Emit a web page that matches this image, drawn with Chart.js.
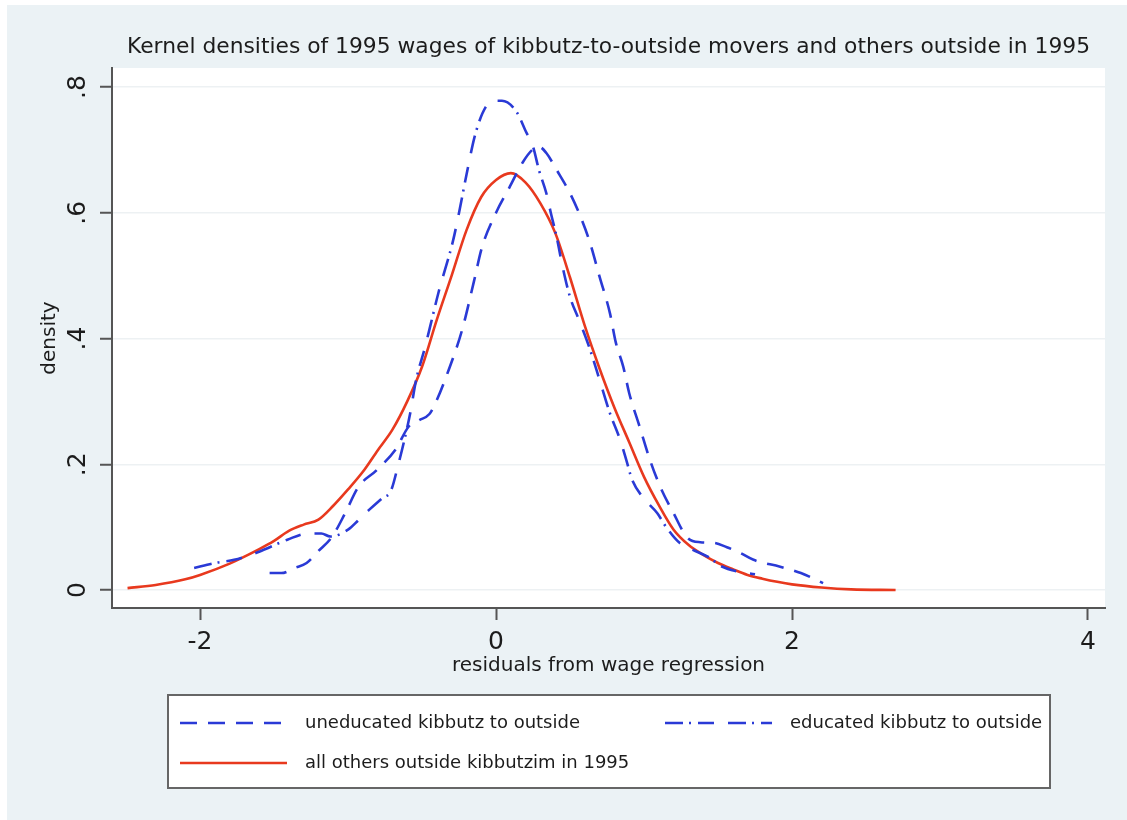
<!DOCTYPE html>
<html>
<head>
<meta charset="utf-8">
<script src="https://cdn.jsdelivr.net/npm/chart.js@4.4.1/dist/chart.umd.min.js"></script>
<style>
  html, body { margin: 0; padding: 0; background: #fff; }
  canvas { display: block; }
</style>
</head>
<body>
<canvas id="chart" width="1127" height="820"></canvas>
<script>
// values
const unedX = [-1.53, -1.45, -1.36, -1.28, -1.2, -1.11, -1.02, -0.93, -0.81, -0.68, -0.59, -0.52, -0.45, -0.41, -0.32, -0.23, -0.15, -0.095, 0, 0.09, 0.18, 0.245, 0.29, 0.34, 0.41, 0.5, 0.56, 0.63, 0.7, 0.77, 0.81, 0.86, 0.9, 0.97, 1.04, 1.11, 1.2, 1.29, 1.38, 1.47, 1.56, 1.65, 1.74, 1.92, 2.06, 2.21];
const unedY = [0.027, 0.027, 0.035, 0.043, 0.062, 0.084, 0.122, 0.164, 0.19, 0.223, 0.26, 0.27, 0.28, 0.297, 0.35, 0.413, 0.49, 0.545, 0.6, 0.64, 0.68, 0.7, 0.705, 0.695, 0.668, 0.631, 0.6, 0.556, 0.498, 0.44, 0.393, 0.355, 0.313, 0.26, 0.207, 0.164, 0.122, 0.084, 0.076, 0.075, 0.068, 0.059, 0.048, 0.037, 0.027, 0.011];

const edX = [-2.04, -1.9, -1.77, -1.61, -1.41, -1.27, -1.18, -1.12, -1.0, -0.93, -0.86, -0.77, -0.71, -0.66, -0.62, -0.58, -0.54, -0.48, -0.44, -0.39, -0.29, -0.25, -0.2, -0.14, -0.07, 0, 0.04, 0.14, 0.2, 0.25, 0.29, 0.34, 0.37, 0.41, 0.45, 0.5, 0.56, 0.63, 0.7, 0.77, 0.84, 0.88, 0.92, 0.99, 1.09, 1.15, 1.24, 1.33, 1.43, 1.53, 1.62, 1.75];
const edY = [0.035, 0.043, 0.048, 0.06, 0.08, 0.09, 0.09, 0.085, 0.096, 0.111, 0.127, 0.146, 0.158, 0.2, 0.238, 0.281, 0.334, 0.386, 0.424, 0.472, 0.556, 0.6, 0.66, 0.725, 0.768, 0.778, 0.778, 0.76, 0.73, 0.705, 0.668, 0.631, 0.6, 0.561, 0.514, 0.466, 0.43, 0.386, 0.334, 0.281, 0.238, 0.207, 0.175, 0.148, 0.122, 0.1, 0.075, 0.064, 0.053, 0.037, 0.03, 0.025];

const othX = [-2.49, -2.3, -2.1, -2.0, -1.8, -1.6, -1.5, -1.4, -1.3, -1.2, -1.1, -1.0, -0.9, -0.8, -0.7, -0.6, -0.5, -0.4, -0.3, -0.2, -0.1, 0, 0.1, 0.2, 0.3, 0.4, 0.5, 0.6, 0.7, 0.8, 0.9, 1.0, 1.1, 1.2, 1.3, 1.4, 1.5, 1.6, 1.7, 1.8, 1.9, 2.0, 2.2, 2.4, 2.7];
const othY = [0.003, 0.008, 0.017, 0.024, 0.042, 0.065, 0.078, 0.094, 0.104, 0.112, 0.134, 0.16, 0.188, 0.222, 0.255, 0.3, 0.355, 0.43, 0.5, 0.572, 0.625, 0.652, 0.663, 0.648, 0.615, 0.568, 0.497, 0.42, 0.352, 0.29, 0.235, 0.18, 0.135, 0.096, 0.072, 0.056, 0.043, 0.033, 0.024, 0.018, 0.013, 0.009, 0.004, 0.001, 0];

const seriesNames = ['uneducated kibbutz to outside', 'educated kibbutz to outside', 'all others outside kibbutzim in 1995'];
const xTicks = [-2, 0, 2, 4];
const xTickLabels = ['-2', '0', '2', '4'];
const yTicks = [0, 0.2, 0.4, 0.6, 0.8];
const yTickLabels = ['0', '.2', '.4', '.6', '.8'];

const titleText = 'Kernel densities of 1995 wages of kibbutz-to-outside movers and others outside in 1995';
const xTitle = 'residuals from wage regression';
const yTitle = 'density';

const BLUE = '#2a3ad6';
const RED = '#e8391e';
const BG = '#ebf2f5';
const FONT = '"DejaVu Sans", "Noto Sans", sans-serif';

const toPoints = (xs, ys) => xs.map((x, i) => ({ x: x, y: ys[i] }));

// background, titles, tick labels and the boxed legend
const decor = {
  id: 'decor',
  beforeDraw(chart) {
    const { ctx, chartArea: a } = chart;
    ctx.save();
    ctx.fillStyle = '#fff';
    ctx.fillRect(0, 0, chart.width, chart.height);
    ctx.fillStyle = BG;
    ctx.fillRect(7, 5, chart.width - 7, chart.height - 5);
    ctx.fillStyle = '#fff';
    ctx.fillRect(a.left, a.top, a.right - a.left, a.bottom - a.top);
    ctx.restore();
  },
  afterDraw(chart) {
    const { ctx, chartArea: a } = chart;
    const xs = chart.scales.x, ys = chart.scales.y;
    ctx.save();
    ctx.fillStyle = '#1c1c1c';

    // title
    ctx.font = '21.8px ' + FONT;
    ctx.textAlign = 'center';
    ctx.textBaseline = 'middle';
    ctx.fillText(titleText, (a.left + a.right) / 2, 47);

    // x tick labels
    ctx.font = '25px ' + FONT;
    xTicks.forEach((v, i) => {
      ctx.fillText(xTickLabels[i], xs.getPixelForValue(v), 642);
    });

    // y tick labels, rotated like Stata
    yTicks.forEach((v, i) => {
      ctx.save();
      ctx.translate(78, ys.getPixelForValue(v));
      ctx.rotate(-Math.PI / 2);
      ctx.fillText(yTickLabels[i], 0, 0);
      ctx.restore();
    });

    // axis titles
    ctx.font = '20px ' + FONT;
    ctx.fillText(xTitle, (a.left + a.right) / 2, 666);
    ctx.save();
    ctx.translate(50, (a.top + a.bottom) / 2);
    ctx.rotate(-Math.PI / 2);
    ctx.fillText(yTitle, 0, 0);
    ctx.restore();

    // legend box
    ctx.fillStyle = '#fff';
    ctx.fillRect(168, 695, 882, 93);
    ctx.strokeStyle = '#666';
    ctx.lineWidth = 2;
    ctx.strokeRect(168, 695, 882, 93);

    const slots = [
      { x: 180, y: 723 },
      { x: 665, y: 723 },
      { x: 180, y: 763 }
    ];
    ctx.font = '18px ' + FONT;
    ctx.textAlign = 'left';
    chart.data.datasets.forEach((ds, i) => {
      const s = slots[i];
      ctx.save();
      ctx.strokeStyle = ds.borderColor;
      ctx.lineWidth = ds.borderWidth;
      ctx.setLineDash(ds.borderDash || []);
      ctx.beginPath();
      ctx.moveTo(s.x, s.y);
      ctx.lineTo(s.x + 107, s.y);
      ctx.stroke();
      ctx.restore();
      ctx.fillStyle = '#1c1c1c';
      ctx.fillText(ds.label, s.x + 125, s.y);
    });
    ctx.restore();
  }
};

new Chart(document.getElementById('chart'), {
  type: 'line',
  data: {
    datasets: [
      {
        label: seriesNames[0],
        data: toPoints(unedX, unedY),
        borderColor: BLUE,
        borderWidth: 2.6,
        borderDash: [17, 11]
      },
      {
        label: seriesNames[1],
        data: toPoints(edX, edY),
        borderColor: BLUE,
        borderWidth: 2.6,
        borderDash: [18, 6, 2, 7, 16, 14]
      },
      {
        label: seriesNames[2],
        data: toPoints(othX, othY),
        borderColor: RED,
        borderWidth: 2.6
      }
    ]
  },
  options: {
    responsive: false,
    animation: false,
    layout: { padding: { top: 68, left: 0, right: 22, bottom: 192 } },
    elements: {
      point: { radius: 0 },
      line: { cubicInterpolationMode: 'monotone', fill: false }
    },
    plugins: {
      legend: { display: false },
      title: { display: false },
      tooltip: { enabled: false }
    },
    scales: {
      x: {
        type: 'linear',
        min: -2.595,
        max: 4.115,
        afterBuildTicks: s => { s.ticks = xTicks.map(v => ({ value: v })); },
        afterFit: s => { s.height = 20; },
        ticks: { display: false },
        grid: { drawOnChartArea: false, drawTicks: true, tickLength: 12, tickColor: '#555', tickWidth: 2 },
        border: { display: true, color: '#555', width: 2 }
      },
      y: {
        type: 'linear',
        min: -0.0286,
        max: 0.8302,
        afterBuildTicks: s => { s.ticks = yTicks.map(v => ({ value: v })); },
        afterFit: s => { s.width = 112; },
        ticks: { display: false },
        grid: { color: '#edf1f3', lineWidth: 1.5, drawTicks: true, tickLength: 12, tickColor: '#555', tickWidth: 2 },
        border: { display: true, color: '#555', width: 2 }
      }
    }
  },
  plugins: [decor]
});
</script>
</body>
</html>
